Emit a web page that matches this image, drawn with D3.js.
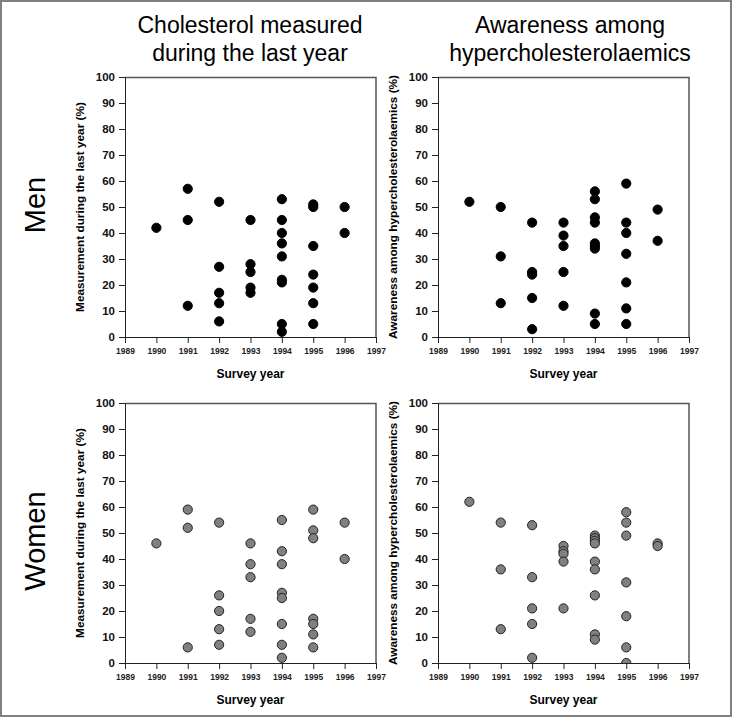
<!DOCTYPE html>
<html>
<head>
<meta charset="utf-8">
<script src="https://cdn.jsdelivr.net/npm/d3@7"></script>
<style>
	body { margin: 0; background: #fff; }
	svg { display: block; font-family: "Liberation Sans", Arial, sans-serif; }
</style>
</head>
<body>
<div id="chart"></div>
<script>
// data: [year, percent]
var menMeasured = [
	[1990, 42],
	[1991, 57], [1991, 45], [1991, 12],
	[1992, 52], [1992, 27], [1992, 17], [1992, 13], [1992, 6],
	[1993, 45], [1993, 28], [1993, 25], [1993, 19], [1993, 17],
	[1994, 53], [1994, 45], [1994, 40], [1994, 36], [1994, 31], [1994, 22], [1994, 21], [1994, 5], [1994, 2],
	[1995, 51], [1995, 50], [1995, 35], [1995, 24], [1995, 19], [1995, 13], [1995, 5],
	[1996, 50], [1996, 40]
]
var menAware = [
	[1990, 52],
	[1991, 50], [1991, 31], [1991, 13],
	[1992, 44], [1992, 25], [1992, 24], [1992, 15], [1992, 3],
	[1993, 44], [1993, 39], [1993, 35], [1993, 25], [1993, 12],
	[1994, 56], [1994, 53], [1994, 46], [1994, 44], [1994, 36], [1994, 35], [1994, 34], [1994, 9], [1994, 5],
	[1995, 59], [1995, 44], [1995, 40], [1995, 32], [1995, 21], [1995, 11], [1995, 5],
	[1996, 49], [1996, 37]
]
var womenMeasured = [
	[1990, 46],
	[1991, 59], [1991, 52], [1991, 6],
	[1992, 54], [1992, 26], [1992, 20], [1992, 13], [1992, 7],
	[1993, 46], [1993, 38], [1993, 33], [1993, 17], [1993, 12],
	[1994, 55], [1994, 43], [1994, 38], [1994, 27], [1994, 25], [1994, 15], [1994, 7], [1994, 2],
	[1995, 59], [1995, 51], [1995, 48], [1995, 17], [1995, 15], [1995, 11], [1995, 6],
	[1996, 54], [1996, 40]
]
var womenAware = [
	[1990, 62],
	[1991, 54], [1991, 36], [1991, 13],
	[1992, 53], [1992, 33], [1992, 21], [1992, 15], [1992, 2],
	[1993, 45], [1993, 43], [1993, 42], [1993, 39], [1993, 21],
	[1994, 49], [1994, 48], [1994, 47], [1994, 46], [1994, 39], [1994, 36], [1994, 26], [1994, 11], [1994, 9],
	[1995, 58], [1995, 54], [1995, 49], [1995, 31], [1995, 18], [1995, 6], [1995, 0],
	[1996, 46], [1996, 45]
]
var yearTicks = [1989, 1990, 1991, 1992, 1993, 1994, 1995, 1996, 1997]
var pctTicks = [0, 10, 20, 30, 40, 50, 60, 70, 80, 90, 100]
var colTitles = [["Cholesterol measured", "during the last year"], ["Awareness among", "hypercholesterolaemics"]]
var rowTitles = ["Men", "Women"]
var yTitles = ["Measurement during the last year (%)", "Awareness among hypercholesterolaemics (%)"]

var W = 734, H = 718
var svg = d3.select("#chart").append("svg")
	.attr("width", W)
	.attr("height", H)

// outer frame
svg.append("rect")
	.attr("x", 1).attr("y", 1)
	.attr("width", 730).attr("height", 715)
	.attr("fill", "none")
	.attr("stroke", "#808080")
	.attr("stroke-width", 2)

var colX = [125, 438]
var rowY = [77, 403]
var pw = 251, ph = 260
var colCenter = [250, 570]

// column titles
colTitles.forEach(function(lines, i) {
	lines.forEach(function(l, j) {
		svg.append("text")
			.attr("x", colCenter[i])
			.attr("y", 33 + j * 28)
			.attr("text-anchor", "middle")
			.attr("font-size", 23)
			.text(l)
	})
})

// row titles
var rowCenter = [205, 541]
rowTitles.forEach(function(t, i) {
	svg.append("text")
		.attr("transform", `translate(45,${rowCenter[i]}) rotate(-90)`)
		.attr("text-anchor", "middle")
		.attr("font-size", 29)
		.text(t)
})

function panel(data, col, row, fill, stroke) {
	var x0 = colX[col], y0 = rowY[row]
	var x = d3.scaleLinear().domain([1989, 1997]).range([0, pw])
	var y = d3.scaleLinear().domain([0, 100]).range([ph, 0])
	var g = svg.append("g").attr("transform", `translate(${x0},${y0})`)
	var id = "clip" + col + row

	g.append("clipPath").attr("id", id)
		.append("rect").attr("width", pw).attr("height", ph)

	// top/right border
	g.append("path")
		.attr("d", `M0,0.5H${pw}V${ph}`)
		.attr("fill", "none")
		.attr("stroke", "#555")
		.attr("stroke-width", 1.5)

	var ax = g.append("g")
		.attr("transform", `translate(0,${ph})`)
		.call(d3.axisBottom(x).tickValues(yearTicks).tickFormat(d3.format("d")).tickSize(6).tickPadding(5))
	ax.selectAll("text").attr("font-size", 8.5).attr("font-weight", "bold").attr("fill", "#222")
	ax.select(".domain").attr("stroke", "#222")

	var ay = g.append("g")
		.call(d3.axisLeft(y).tickValues(pctTicks).tickSize(6).tickPadding(4))
	ay.selectAll("text").attr("font-size", 11.5).attr("font-weight", "bold").attr("fill", "#111")
	ay.select(".domain").attr("stroke", "#222")
	g.selectAll(".tick line").attr("stroke", "#222")

	g.append("text")
		.attr("x", pw / 2)
		.attr("y", ph + 41)
		.attr("text-anchor", "middle")
		.attr("font-size", 12)
		.attr("font-weight", "bold")
		.text("Survey year")

	g.append("text")
		.attr("transform", `translate(-41,${ph / 2}) rotate(-90)`)
		.attr("text-anchor", "middle")
		.attr("font-size", 11.8)
		.attr("font-weight", "bold")
		.text(yTitles[col])

	g.append("g").attr("clip-path", `url(#${id})`)
		.selectAll("circle")
		.data(data)
		.enter().append("circle")
		.attr("cx", d => x(d[0]))
		.attr("cy", d => y(d[1]))
		.attr("r", 4.6)
		.attr("fill", fill)
		.attr("stroke", stroke)
		.attr("stroke-width", 1)
}

panel(menMeasured, 0, 0, "#000", "#000")
panel(menAware, 1, 0, "#000", "#000")
panel(womenMeasured, 0, 1, "#808080", "#222")
panel(womenAware, 1, 1, "#808080", "#222")
</script>
</body>
</html>
